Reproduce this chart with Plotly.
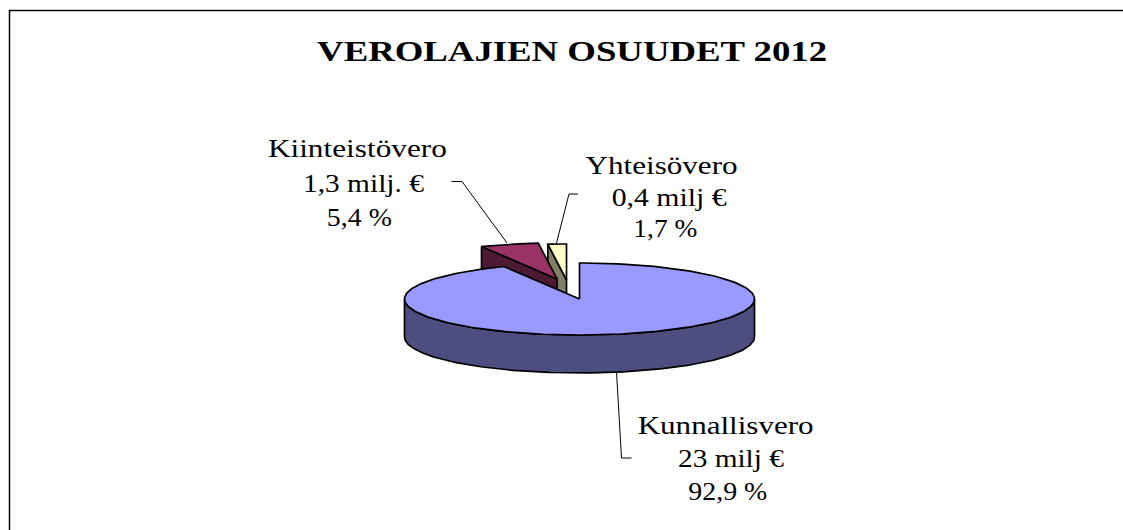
import json
import numpy as np
import plotly.graph_objects as go

# ---- data ----
categories = ["Kunnallisvero", "Kiinteistövero", "Yhteisövero"]
amount_labels = ["23 milj €", "1,3 milj. €", "0,4 milj €"]
percent_labels = ["92,9 %", "5,4 %", "1,7 %"]
percent_values = [92.9, 5.4, 1.7]
title_text = "VEROLAJIEN OSUUDET 2012"

# ---- style / geometry ----
W, H = 1123, 530
CX, CY, RX, RY, DEPTH = 579.5, 299.0, 175.0, 36.0, 38.0
top_colors = ["#9999FF", "#993366", "#FFFFCC"]
side_colors = ["#4D4D80", "#4D1933", "#808066"]
explode_offsets = [(0, 0), (-22.5, -20), (-13, -19)]
SERIF = "Liberation Serif, Times New Roman, serif"
OUT = dict(color="black", width=1.7)

fig = go.Figure()


def add_poly(xs, ys, color, line=OUT):
    fig.add_trace(go.Scatter(x=list(xs) + [xs[0]], y=list(ys) + [ys[0]], mode="lines",
                             fill="toself", fillcolor=color, line=line,
                             hoverinfo="skip", showlegend=False))


def arc(a0, a1, ox=0.0, oy=0.0):
    t = np.radians(np.linspace(a0, a1, 240))
    return CX + ox + RX * np.sin(t), CY + oy - RY * np.cos(t)


# slice angles clockwise from 12 o'clock
edges = np.concatenate([[0.0], np.cumsum(percent_values)]) / sum(percent_values) * 360.0

# back slices first (small ones), the large slice last so that it covers them
for i in (2, 1):
    ox, oy = explode_offsets[i]
    a0, a1 = edges[i], edges[i + 1]
    ax, ay = CX + ox, CY + oy
    ex, ey = arc(a0, a0, ox, oy)
    add_poly([ex[0], ax, ax, ex[0]], [ey[0], ay, ay + DEPTH, ey[0] + DEPTH], side_colors[i])
    sx, sy = arc(a0, a1, ox, oy)
    add_poly([ax] + list(sx), [ay] + list(sy), top_colors[i])

# large slice: rim wall then top face
a0, a1 = edges[0], edges[1]
wx, wy = arc(90, 270)
add_poly(list(wx) + list(wx[::-1]), list(wy) + list((wy + DEPTH)[::-1]), side_colors[0])
sx, sy = arc(a0, a1)
add_poly([CX] + list(sx), [CY] + list(sy), top_colors[0])

# leader lines
leaders = [
    ([451.5, 462, 507], [181.5, 181.5, 243]),
    ([578, 569, 556.5], [194, 194, 243]),
    ([616.5, 621.5, 631.5], [372, 458, 458]),
]
for lx, ly in leaders:
    fig.add_trace(go.Scatter(x=lx, y=ly, mode="lines", line=dict(color="black", width=1),
                             hoverinfo="skip", showlegend=False))

# frame (top and left only)
fig.add_trace(go.Scatter(x=[9.5, 9.5, W], y=[H, 10.5, 10.5], mode="lines",
                         line=dict(color="black", width=1.5), hoverinfo="skip", showlegend=False))

# text: centre x, centre y and drawn width of each line
line_pos = {
    0: ([725, 731, 728], [425, 458, 491], [176, 106, 79]),
    1: ([357, 363, 359], [148, 183, 217], [179, 121, 65]),
    2: ([661, 669, 665], [165, 197, 228], [152, 115, 64]),
}
annotations = [dict(text=title_text, x=572, y=50, xref="x", yref="y", showarrow=False,
                    xanchor="center", yanchor="middle",
                    font=dict(family=SERIF, size=30, color="black", weight="bold"))]
text_widths = {title_text: 510}
for i in range(3):
    texts = [categories[i], amount_labels[i], percent_labels[i]]
    xs, ys, ws = line_pos[i]
    for t, x, y, w in zip(texts, xs, ys, ws):
        text_widths[t] = w
        annotations.append(dict(text=t, x=x, y=y, xref="x", yref="y", showarrow=False,
                                xanchor="center", yanchor="middle",
                                font=dict(family=SERIF, size=26, color="black")))

fig.update_layout(
    width=W, height=H, margin=dict(l=0, r=0, t=0, b=0),
    paper_bgcolor="white", plot_bgcolor="white", showlegend=False,
    xaxis=dict(range=[0, W], visible=False, fixedrange=True),
    yaxis=dict(range=[H, 0], visible=False, fixedrange=True),
    annotations=annotations,
)
post = """
document.body.style.margin='0';document.body.style.overflow='hidden';
var widths = %s;
document.querySelectorAll('text.annotation-text').forEach(function (e) {
  var w = widths[e.textContent];
  if (w) { e.setAttribute('textLength', w); e.setAttribute('lengthAdjust', 'spacingAndGlyphs'); }
});
""" % json.dumps(text_widths, ensure_ascii=False)
fig.write_html("out.html", config=dict(displayModeBar=False), post_script=post)
